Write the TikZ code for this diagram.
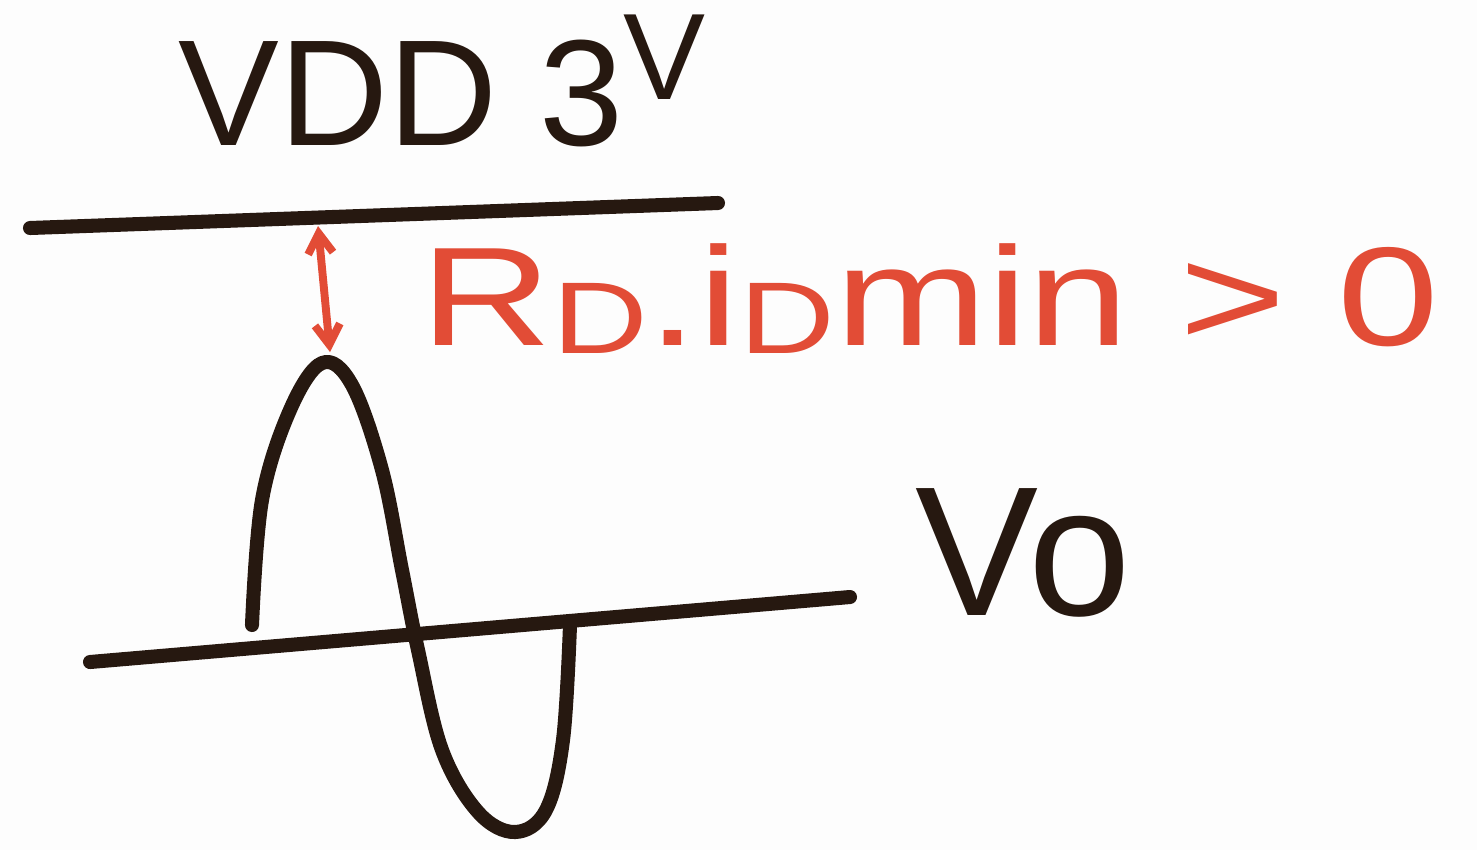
\documentclass[tikz,border=0pt]{standalone}
\usepackage{fontspec}
\setmainfont{Liberation Sans}
\usepackage{tikz}
\usetikzlibrary{arrows.meta,positioning}
\usepackage{xcolor}
\definecolor{ink}{RGB}{38,24,16}
\definecolor{redink}{RGB}{226,76,54}
\definecolor{paper}{RGB}{253,253,253}
\newcommand{\subD}{\raisebox{-5pt}{\fontsize{58}{58}\selectfont D}}

\begin{document}
\begin{tikzpicture}[x=0.02cm, y=-0.02cm,
 pen/.style={draw=ink, line width=8pt, line cap=round, line join=round},
 redpen/.style={draw=redink, line width=4.5pt, line cap=round},
 bigtxt/.style={text=ink, inner sep=0pt, font=\fontsize{86}{90}\selectfont},
 redtxt/.style={text=redink, inner sep=0pt, font=\fontsize{80}{84}\selectfont\addfontfeature{FakeStretch=1.3}},
 arr/.style={{Straight Barb[length=4mm,width=5mm]}-{Straight Barb[length=4mm,width=5mm]}}]
\fill[paper] (0,0) rectangle (1477,850);
\useasboundingbox (0,0) rectangle (1477,850);
% supply rail
\coordinate (vdd-l) at (30,228);
\coordinate (vdd-r) at (718,203);
\draw[pen] (vdd-l) -- (vdd-r);
\node[bigtxt, anchor=base west] (vdd) at (178,145) {VDD 3\raisebox{0.3em}{\fontsize{70}{70}\selectfont V}};
% headroom
\coordinate (rtop) at (318,226);
\coordinate (rbot) at (330,352);
\draw[redpen, arr] (rtop) -- (rbot);
\node[redtxt, anchor=base west] (cond) at (420,345) {R\subD.i\subD min > 0};
% output axis
\coordinate (ax-l) at (90,662);
\coordinate (ax-r) at (850,597);
\draw[pen] (ax-l) -- (ax-r);
\node[bigtxt, anchor=base west, font=\fontsize{105}{110}\selectfont] (vo) at (915,615) {Vo};
% output swing
\draw[pen] plot[smooth, tension=0.6] coordinates {(252,625) (262,500) (290,410) (322,363) (352,385) (382,470) (402,570) (418,650) (442,750) (478,812) (515,832) (546,810) (563,740) (570,625)};
\end{tikzpicture}
\end{document}
